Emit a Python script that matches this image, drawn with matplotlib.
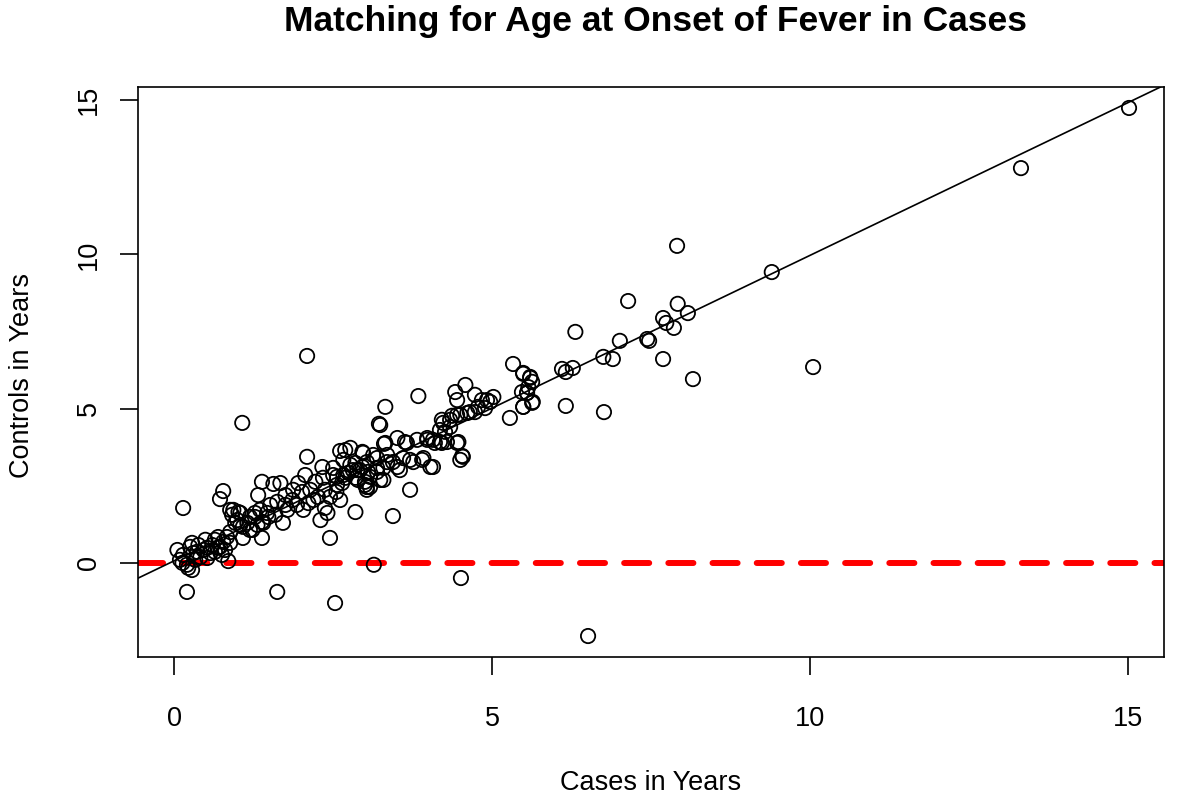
import numpy as np
import matplotlib
matplotlib.use("Agg")
import matplotlib.pyplot as plt

plt.rcParams['font.family'] = ['Liberation Sans', 'DejaVu Sans']

# age at onset of fever, cases vs matched controls (years)
cases = [
    0.05, 0.14, 0.25, 0.28, 0.30, 0.36, 0.41, 0.13, 0.22, 0.28, 0.20, 0.46,
    0.52, 0.60, 0.64, 0.69, 0.77, 0.83, 0.64, 0.75, 0.88, 0.80, 0.52, 0.96,
    1.04, 0.91, 0.93, 1.04, 1.15, 1.19, 1.08, 1.31, 1.27, 1.38, 1.46, 0.88,
    0.72, 0.14, 0.77, 0.72, 1.38, 1.56, 0.20, 1.62, 0.85, 2.45, 2.53,
    0.38, 0.49, 0.57, 0.69, 0.33, 0.09,
    0.88, 1.01, 1.19, 1.35, 1.48, 1.62, 1.75, 1.87, 2.01, 2.11, 2.26, 2.37,
    2.45, 2.56, 2.22, 2.34, 2.50, 2.69, 2.81, 2.96, 3.05, 3.19, 3.29, 3.03,
    3.00, 2.61, 1.93, 1.71, 1.40, 1.27, 1.23, 1.38, 1.08, 0.99, 1.67, 1.78,
    2.03, 2.30, 2.41, 2.06, 2.33, 2.09, 1.07, 3.24, 2.61, 2.77, 3.30, 3.51,
    3.66, 3.82, 3.92, 3.71, 3.44, 2.85,
    1.32, 1.51, 1.86, 2.14, 1.95, 1.75, 1.59, 2.19, 2.37, 2.55,
    3.84, 4.58, 4.42, 3.32, 3.22, 5.28, 2.97, 3.13, 3.32, 3.63, 3.98, 4.18,
    4.23, 4.34, 4.26, 4.45, 4.61, 4.73, 4.92, 5.02, 4.47, 4.50, 4.54, 4.07,
    3.71, 3.51, 3.35, 3.19, 3.03, 2.85, 2.66, 2.50, 2.56, 2.74, 2.89, 3.08,
    3.24, 3.03, 2.88,
    4.29, 4.10, 2.69, 2.96, 3.35, 3.44, 3.60, 3.76, 3.90, 4.03, 2.77, 2.92,
    3.19, 3.29, 3.55, 2.66, 2.85, 3.00, 3.08, 2.64,
    5.33, 5.49, 5.60, 5.63, 5.47, 5.55, 5.64, 5.49, 4.73, 4.45, 4.84, 4.97,
    4.89, 4.21, 4.37, 4.50, 4.65, 4.78, 4.34, 4.18, 3.98, 4.07, 4.21, 4.45,
    4.53,
    7.14, 7.92, 8.08, 7.69, 7.74, 7.86, 6.31, 7.01, 7.44, 7.47, 6.75, 6.90,
    7.69, 6.10, 6.16, 6.27, 8.16, 5.49, 5.60, 5.57, 5.55, 5.63, 5.49, 6.16,
    6.76,
    15.02, 13.32, 9.40, 10.05, 7.91, 6.51, 4.51, 3.14, 2.09,
]
controls = [
    0.42, 0.26, 0.52, 0.65, 0.32, 0.36, 0.19, 0.00, -0.16, -0.23, -0.06, 0.42,
    0.49, 0.58, 0.75, 0.84, 0.68, 0.84, 0.36, 0.26, 1.00, 0.42, 0.16, 1.30,
    1.23, 1.56, 1.72, 1.62, 1.30, 1.07, 0.81, 1.23, 1.49, 1.33, 1.62, 0.65,
    0.52, 1.78, 2.33, 2.07, 2.63, 2.56, -0.94, -0.94, 0.06, 0.81, -1.30,
    0.58, 0.75, 0.32, 0.49, 0.10, 0.10,
    1.72, 1.65, 1.49, 1.72, 1.49, 1.98, 2.20, 2.37, 2.30, 1.94, 2.14, 1.78,
    2.14, 2.53, 2.63, 2.76, 2.85, 2.76, 3.01, 3.11, 2.95, 3.08, 2.69, 2.37,
    2.53, 2.04, 1.88, 1.30, 1.30, 1.62, 1.07, 0.81, 1.17, 1.39, 2.59, 1.72,
    1.72, 1.39, 1.62, 2.85, 3.11, 3.44, 4.54, 4.47, 3.63, 3.73, 3.86, 4.05,
    3.89, 3.99, 3.40, 2.37, 1.52, 1.65,
    2.20, 1.88, 2.04, 2.37, 2.59, 1.88, 1.56, 2.04, 2.37, 2.30,
    5.41, 5.77, 5.54, 5.06, 4.51, 4.70, 3.57, 3.50, 3.89, 3.92, 3.99, 3.92,
    4.54, 4.64, 4.25, 4.80, 4.86, 4.89, 5.28, 5.38, 3.92, 3.34, 3.44, 3.11,
    3.34, 3.11, 3.27, 3.40, 3.27, 3.24, 3.34, 3.08, 2.79, 2.92, 2.69, 2.79,
    2.69, 2.46, 3.01,
    3.92, 3.89, 3.66, 3.60, 3.50, 3.27, 3.40, 3.27, 3.34, 3.11, 3.18, 3.01,
    2.95, 3.08, 3.01, 2.85, 2.76, 2.63, 2.46, 2.59,
    6.45, 6.13, 6.03, 5.87, 5.54, 5.51, 5.22, 5.06, 5.45, 5.28, 5.28, 5.22,
    5.02, 4.64, 4.77, 4.80, 4.89, 5.06, 4.41, 4.31, 4.05, 3.99, 3.89, 3.89,
    3.47,
    8.49, 8.40, 8.10, 7.94, 7.78, 7.62, 7.49, 7.20, 7.26, 7.20, 6.68, 6.61,
    6.61, 6.29, 6.19, 6.32, 5.96, 6.16, 6.00, 5.70, 5.51, 5.19, 5.06, 5.09,
    4.89,
    14.75, 12.80, 9.43, 6.35, 10.28, -2.37, -0.49, -0.06, 6.71,
]

# fitted line (intercept, slope)
fit_intercept = 0.07
fit_slope = 0.99

x_ticks = [0, 5, 10, 15]
y_ticks = [0, 5, 10, 15]

W, H = 1181, 799
fig = plt.figure(figsize=(W / 100, H / 100), dpi=100)
ax = fig.add_axes([138 / W, 1 - 657 / H, (1164 - 138) / W, (657 - 87) / H])

ax.scatter(cases, controls, s=10.3 ** 2, facecolors='none', edgecolors='black',
           linewidths=1.3, zorder=3)
ax.axline((0, fit_intercept), slope=fit_slope, color='black', lw=1.2, zorder=2)
ax.axhline(0, color='red', lw=4.3, dashes=(4.2, 3.2), solid_capstyle='butt',
           dash_capstyle='round', zorder=1)

ax.set_xlim(-0.57, 15.57)
ax.set_ylim(-3.05, 15.43)
ax.set_xticks(x_ticks)
ax.set_yticks(y_ticks)

for sp in ax.spines.values():
    sp.set_linewidth(1.2)

ax.tick_params(axis='both', direction='out', length=13, width=1.2, labelsize=19.5)
ax.tick_params(axis='x', pad=22)
ax.tick_params(axis='y', pad=13)
for lab in ax.get_yticklabels():
    lab.set_rotation(90)
    lab.set_va('center')

fig.text(656 / W, 1 - 21 / H, "Matching for Age at Onset of Fever in Cases",
         ha='center', va='center', fontsize=25.5, fontweight='bold')
fig.text(651 / W, 1 - 783 / H, "Cases in Years", ha='center', va='center',
         fontsize=19.5)
fig.text(22 / W, 1 - 376 / H, "Controls in Years", ha='center', va='center',
         rotation=90, fontsize=19.5)

fig.savefig("out.png", dpi=100)
